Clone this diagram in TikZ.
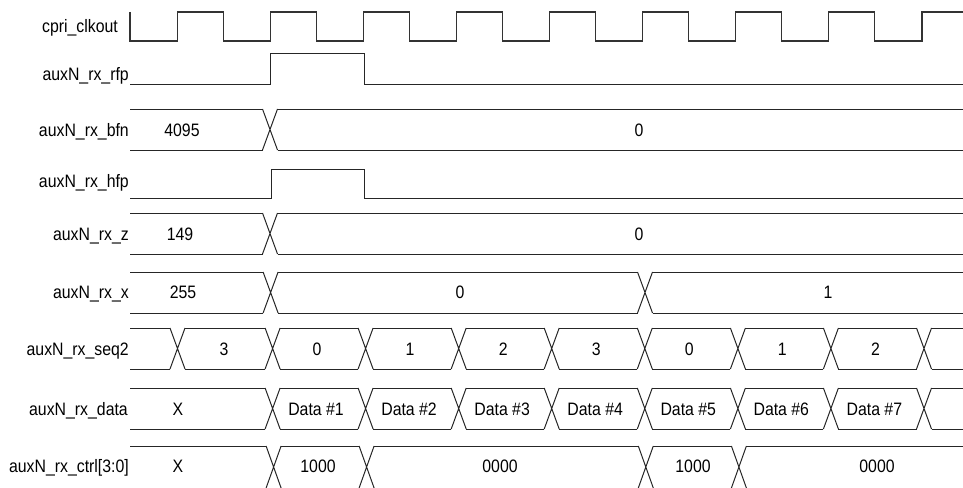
\documentclass[tikz,border=0pt]{standalone}
\usepackage{fontspec}
\setmainfont{Liberation Sans}[FakeStretch=0.88]
\newcommand\busrow[4]{%
  \foreach \a/\b in {#3} {\draw[sig] ({\a+7.5},#1) -- ({\b-7.5},#1) ({\a+7.5},#2) -- ({\b-7.5},#2);}
  \foreach \c in {#4} {\draw[sig] ({\c-7.5},#1) -- ({\c+7.5},#2) ({\c-7.5},#2) -- ({\c+7.5},#1);}
}
\begin{document}
\begin{tikzpicture}[x=1pt,y=-1pt,
  sig/.style={line width=1pt, black!85},
  clk/.style={line width=1.1pt, black!80},
  lbl/.style={anchor=base east, inner sep=0pt, font=\fontsize{18}{21}\selectfont},
  val/.style={anchor=base, inner sep=0pt, font=\fontsize{18}{21}\selectfont}]
\useasboundingbox (0,0) rectangle (963,487);

% labels
\node[lbl] (lclk) at (118,33) {cpri\_clkout};
\node[lbl] (lrfp) at (129,80) {auxN\_rx\_rfp};
\node[lbl] (lbfn) at (129,136.5) {auxN\_rx\_bfn};
\node[lbl] (lhfp) at (129,187) {auxN\_rx\_hfp};
\node[lbl] (lz) at (129,240) {auxN\_rx\_z};
\node[lbl] (lx) at (129,298.5) {auxN\_rx\_x};
\node[lbl] (lseq) at (129,355) {auxN\_rx\_seq2};
\node[lbl] (ldata) at (128,415) {auxN\_rx\_data};
\node[lbl] (lctrl) at (129,472.5) {auxN\_rx\_ctrl[3:0]};

% clock
\draw[clk] (130,12) -- (130,41)
  \foreach \k in {0,...,7} { -- ({177.5+93.06*\k},41) -- ({177.5+93.06*\k},12) -- ({223.3+93.06*\k},12) -- ({223.3+93.06*\k},41) }
  -- (922,41) -- (922,12) -- (963,12);

% rfp, hfp
\draw[sig] (130,84) -- (270.6,84) -- (270.6,54) -- (364,54) -- (364,84) -- (963,84);
\draw[sig] (130,198) -- (271,198) -- (271,169) -- (364,169) -- (364,198) -- (963,198);

% buses
\busrow{109}{150}{122.5/270, 270/970.5}{270}
\busrow{213}{254}{122.5/270, 270/970.5}{270}
\busrow{272}{313}{122.5/270.6, 270.6/645, 645/970.5}{270.6, 645}
\busrow{328}{369}{122.5/177.5, 177.5/272.6, 272.6/365.6, 365.6/458.7, 458.7/551.7, 551.7/644.8, 644.8/737.9, 737.9/830.9, 830.9/924, 924/970.5}{177.5, 272.6, 365.6, 458.7, 551.7, 644.8, 737.9, 830.9, 924}
\busrow{388}{429}{122.5/272.6, 272.6/365.6, 365.6/458.7, 458.7/551.7, 551.7/644.8, 644.8/737.9, 737.9/830.9, 830.9/924, 924/970.5}{272.6, 365.6, 458.7, 551.7, 644.8, 737.9, 830.9, 924}
\busrow{446}{488}{122.5/273.6, 273.6/366.6, 366.6/645.8, 645.8/738.9, 738.9/970.5}{273.6, 366.6, 645.8, 738.9}

% values
\node[val] (bfn1) at (182,136.5) {4095};
\node[val] (bfn2) at (639,136.5) {0};
\node[val] (z1) at (180,240) {149};
\node[val] (z2) at (639,240) {0};
\node[val] (x1) at (183,298.5) {255};
\node[val] (x2) at (460,298.5) {0};
\node[val] (x3) at (828,298.5) {1};
\foreach \v [count=\i from 0] in {3,0,1,2,3,0,1,2}
  \node[val] (s\i) at ({224+93.06*\i},355) {\v};
\node[val] (d0) at (178,415) {X};
\foreach \i in {1,...,7}
  \node[val] (d\i) at ({316+93.06*(\i-1)},415) {Data \#\i};
\node[val] (c0) at (178,472.5) {X};
\node[val] (c1) at (318,472.5) {1000};
\node[val] (c2) at (500,472.5) {0000};
\node[val] (c3) at (693,472.5) {1000};
\node[val] (c4) at (877,472.5) {0000};
\end{tikzpicture}
\end{document}
